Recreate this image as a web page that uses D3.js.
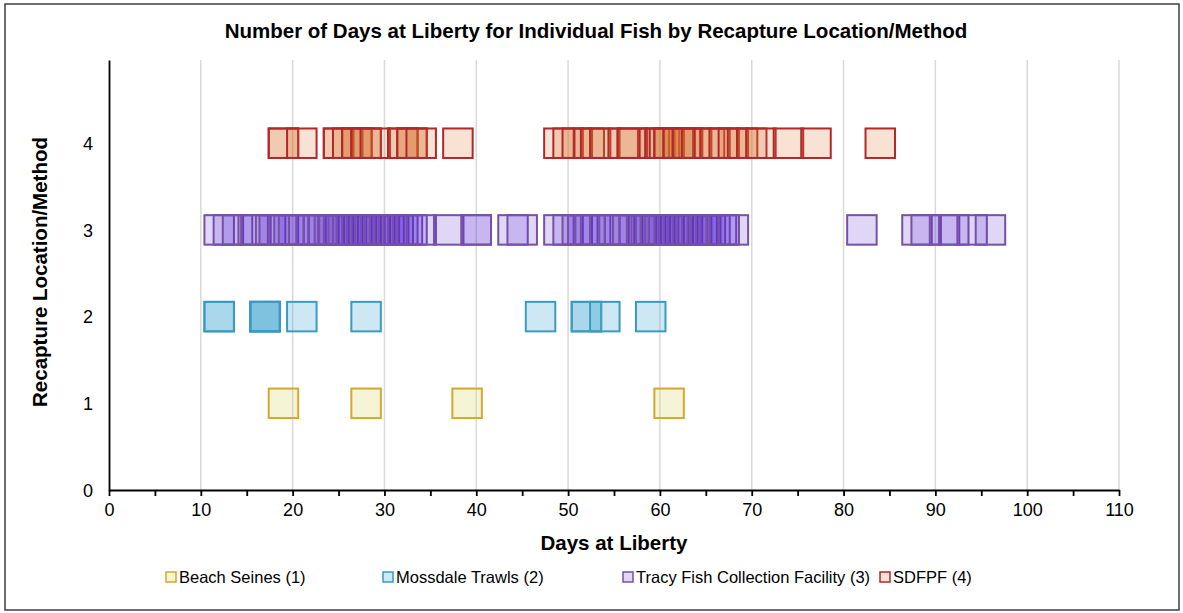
<!DOCTYPE html>
<html>
<head>
<meta charset="utf-8">
<script src="https://cdn.jsdelivr.net/npm/d3@7/dist/d3.min.js"></script>
<style>
body{margin:0;background:#fff;}
text{font-family:"Liberation Sans",Arial,sans-serif;fill:#000;}
</style>
</head>
<body>
<div id="chart"></div>
<script>
// days at liberty for each recaptured fish, one array per method
var seriesNames = ["Beach Seines (1)", "Mossdale Trawls (2)", "Tracy Fish Collection Facility (3)", "SDFPF (4)"];
var seriesRows = [1, 2, 3, 4];
var beachSeines = [19, 28, 39, 61];
var mossdaleTrawls = [12, 12, 17, 17, 17, 17, 21, 28, 47, 52, 52, 54, 59];
var tracyFacility = [12, 13, 14, 15.7, 16, 17.6, 18, 19, 19.6, 20.1, 21.2, 22, 22.8, 23.4, 24, 24.5, 25, 25.5,
    26, 26.4, 27, 27.5, 28, 28.4, 29, 29.5, 30, 30.5, 31, 31.5, 32, 32.5, 33, 34, 37, 40, 40, 44, 45,
    49, 50, 51, 51.6, 52.4, 53, 54, 55, 55.6, 56.5, 57.2, 58, 58.5, 59, 59.5, 60, 60.4, 61, 61.5, 62,
    62.5, 63, 63.5, 64, 64.6, 65, 65.5, 66, 66.7, 67, 68, 82, 88, 89, 91, 92, 94, 96];
var sdfpf = [19, 19, 21, 25, 25, 26, 27, 27, 28, 28, 29, 32, 32, 33, 33, 34, 38,
    49, 50, 51, 52.3, 53, 54, 56, 57, 57, 59.4, 60, 60.5, 61, 61, 62, 62, 63, 63, 64, 65.4, 66, 67, 68,
    69, 70, 71, 74, 77, 84];
var xTicks = d3.range(0, 111, 10);
var xMinorTicks = d3.range(0, 111, 5);
var yTicks = [0, 1, 2, 3, 4];

var allSeries = [beachSeines, mossdaleTrawls, tracyFacility, sdfpf];
var strokes = ["#d3a830", "#3a9ac2", "#7651a6", "#b0282a"];
var fills = ["#dcd56a", "#4eaed3", "#5a28d7", "#d87028"];
var alphas = [0.27, 0.28, 0.19, 0.2];

var W = 1183, H = 613;
var svg = d3.select("#chart").append("svg").attr("width", W).attr("height", H);

// outer frame
svg.append("rect").attr("x", 5).attr("y", 4).attr("width", 1174).attr("height", 606)
    .attr("fill", "#fff").attr("stroke", "#3f3f3f").attr("stroke-width", 1.5);

var x = d3.scaleLinear().domain([0, 110]).range([109, 1119]);
var y = d3.scaleLinear().domain([0, 4.96]).range([490, 60]);

// vertical gridlines
svg.append("g").selectAll("line").data(xTicks.filter(d => d > 0)).enter().append("line")
    .attr("x1", d => x(d)).attr("x2", d => x(d))
    .attr("y1", y(0)).attr("y2", y(4.96))
    .attr("stroke", "#d9d9d9").attr("stroke-width", 1.5);

// markers
seriesRows.forEach(function(row, i){
    svg.append("g").selectAll("rect").data(allSeries[i]).enter().append("rect")
        .attr("x", d => x(d) - 14.75).attr("y", y(row) - 14.75)
        .attr("width", 29.5).attr("height", 29.5)
        .attr("fill", fills[i]).attr("fill-opacity", alphas[i])
        .attr("stroke", strokes[i]).attr("stroke-width", 2);
});

// axes
var xAxis = svg.append("g").attr("transform", "translate(0," + y(0) + ")")
    .call(d3.axisBottom(x).tickValues(xMinorTicks).tickSize(6).tickSizeOuter(0)
        .tickFormat(d => d % 10 == 0 ? d : ""));
xAxis.selectAll("path,line").attr("stroke", "#000").attr("stroke-width", 1.8);
xAxis.selectAll("text").attr("font-size", 18).attr("dy", "0.95em")
    .style("font-family", '"Liberation Sans",Arial,sans-serif');

var yAxis = svg.append("g").attr("transform", "translate(" + x(0) + ",0)")
    .call(d3.axisLeft(y).tickValues(yTicks).tickSize(0).tickPadding(16).tickFormat(d3.format("d")));
yAxis.select("path").attr("stroke", "#000").attr("stroke-width", 1.8);
yAxis.selectAll("text").attr("font-size", 18).attr("dy", "0.35em")
    .style("font-family", '"Liberation Sans",Arial,sans-serif');

// titles
svg.append("text").attr("x", 596).attr("y", 38).attr("text-anchor", "middle")
    .attr("font-size", 20.5).attr("font-weight", "bold")
    .text("Number of Days at Liberty for Individual Fish by Recapture Location/Method");
svg.append("text").attr("x", 614).attr("y", 550).attr("text-anchor", "middle")
    .attr("font-size", 20.5).attr("font-weight", "bold").text("Days at Liberty");
svg.append("text").attr("transform", "translate(47,272) rotate(-90)").attr("text-anchor", "middle")
    .attr("font-size", 20.5).attr("font-weight", "bold").text("Recapture Location/Method");

// legend
var legendX = [166, 383, 623, 880];
var leg = svg.append("g").selectAll("g").data(seriesNames).enter().append("g")
    .attr("transform", (d, i) => "translate(" + legendX[i] + ",577)");
leg.append("rect").attr("x", 0).attr("y", -5).attr("width", 10).attr("height", 10)
    .attr("fill", (d, i) => fills[i]).attr("fill-opacity", (d, i) => alphas[i])
    .attr("stroke", (d, i) => strokes[i]).attr("stroke-width", 1.5);
leg.append("text").attr("x", 13).attr("y", 6).attr("font-size", 16.5).text(d => d);
</script>
</body>
</html>
